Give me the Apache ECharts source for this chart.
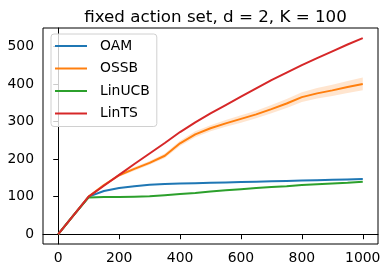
<!DOCTYPE html>
<html><head><meta charset="utf-8">
<script src="https://cdn.jsdelivr.net/npm/echarts@6/dist/echarts.min.js"></script>
<style>html,body{margin:0;padding:0;background:#fff}#c{width:388px;height:273px}</style>
</head><body><div id="c"></div>
<script>
const steps = [0,50,100,150,200,250,300,350,400,450,500,550,600,650,700,750,800,850,900,950,1000];
const oam    = [0,50,100,115,123,128,132,134,135,136,137,138,139,140,141,142,143,144,145,146,147];
const ossb   = [0,50,100,131,157,174,190,209,242,266,282,295,307,319,333,348,365,375,383,392,400];
const ossbBand = [0,1,2,3,4,5,5,6,7,8,8,9,10,10,11,12,13,14,15,16,17];
const oamBand  = [0,0,1,1,1,1,1,1,1,1,1,1,1,1,1,1,1.5,1.5,1.5,1.5,2];
const linucb = [0,50,98,99,99,100,101,104,107,110,114,117,120,123,126,128,131,133,135,137,139.5];
const lints  = [0,50,100,129,158,187,215,243,272,298,322,344,366,388,410,430,450,469,487,505,522];
const xTicks = [0,200,400,600,800,1000];
const yTicks = [0,100,200,300,400,500];
const names = ['OAM','OSSB','LinUCB','LinTS'];
const colors = ['#1f77b4','#ff7f0e','#2ca02c','#d62728'];

const pts = arr => steps.map((x,i)=>[x,arr[i]]);
const font = 'DejaVu Sans';
const chart = echarts.init(document.getElementById('c'), null, {renderer:'canvas'});
function line(name, arr, color, z){
  return {type:'line', name, data:pts(arr), showSymbol:false, symbol:'none', z,
    lineStyle:{color, width:2}, itemStyle:{color}, animation:false};
}
function band(mean, w, fill, z){
  return {type:'custom', silent:true, z, data:[[0,0]],
    renderItem:(params, api)=>{
      const up = steps.map((x,i)=>api.coord([x, mean[i]+w[i]]));
      const lo = steps.map((x,i)=>api.coord([x, mean[i]-w[i]])).reverse();
      return {type:'polygon', shape:{points:up.concat(lo)}, style:{fill}};
    }};
}
chart.setOption({
  animation:false,
  title:{text:'fixed action set, d = 2, K = 100', left:210.5, textAlign:'center', top:4,
    textStyle:{fontFamily:font, fontSize:16.7, fontWeight:'normal', color:'#000'}},
  grid:{left:43, right:10, top:28, bottom:29, show:true, borderColor:'#000', borderWidth:1, backgroundColor:'transparent'},
  legend:{orient:'vertical', left:51, top:34, data:names, icon:'rect', itemWidth:32, itemHeight:2,
    itemGap:8.5, padding:[5,7,6,4], backgroundColor:'rgba(255,255,255,0.8)', borderColor:'#d0d0d0',
    borderWidth:1, borderRadius:3,
    textStyle:{fontFamily:font, fontSize:13.9, color:'#000', lineHeight:14, padding:[0,0,0,8]}},
  xAxis:{type:'value', min:-50, max:1050,
    axisLine:{show:true, lineStyle:{color:'#000'}},
    axisTick:{show:true, length:5, customValues:xTicks, lineStyle:{color:'#000'}},
    axisLabel:{customValues:xTicks, formatter:v=>String(v), margin:7, fontFamily:font, fontSize:13.9, color:'#000'},
    splitLine:{show:false}},
  yAxis:{type:'value', min:-26, max:549,
    axisLine:{show:true, lineStyle:{color:'#000'}},
    axisTick:{show:true, length:5, customValues:yTicks, lineStyle:{color:'#000'}},
    axisLabel:{customValues:yTicks, formatter:v=>String(v), margin:9, fontFamily:font, fontSize:13.9, color:'#000'},
    splitLine:{show:false}},
  series:[
    band(oam, oamBand, 'rgba(31,119,180,0.2)', 1),
    line('OAM', oam, colors[0], 2),
    band(ossb, ossbBand, 'rgba(255,127,14,0.2)', 1),
    line('OSSB', ossb, colors[1], 3),
    line('LinUCB', linucb, colors[2], 4),
    line('LinTS', lints, colors[3], 5)
  ]
});
</script></body></html>
